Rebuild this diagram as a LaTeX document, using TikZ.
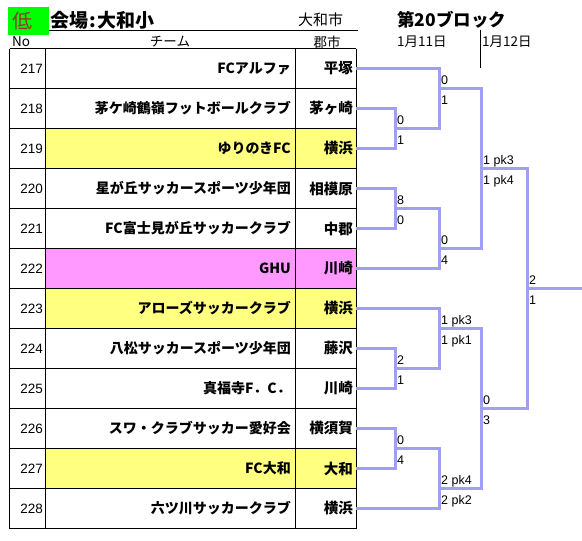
\documentclass[tikz,border=0pt]{standalone}
\usepackage{fontspec}
\setmainfont{Liberation Sans}
\newfontfamily\jp{Noto Sans CJK JP}
\definecolor{bracket}{HTML}{A0A0F0}
\definecolor{hiyellow}{HTML}{FFFF80}
\definecolor{hipink}{HTML}{FF99FF}
\definecolor{hdgreen}{HTML}{00FF00}
\definecolor{lowred}{HTML}{993333}
\newcommand{\scores}[3]{%
  \node[scorelbl] (#1-a) at ([shift={(2,-4)}]#1) {#2};
  \node[scorelbl] (#1-b) at ([shift={(2,16)}]#1) {#3};}
\begin{document}
\begin{tikzpicture}[x=1pt, y=-1pt,
  rule/.style={black, line width=1pt},
  link/.style={bracket, line width=3pt, line join=miter},
  nolbl/.style={anchor=east, inner sep=0pt, font=\fontsize{13.5}{14}\selectfont},
  teamlbl/.style={anchor=east, inner sep=0pt, font=\jp\bfseries\fontsize{14}{14}\selectfont},
  citylbl/.style={anchor=east, inner sep=0pt, font=\jp\bfseries\fontsize{14.5}{15}\selectfont},
  headlbl/.style={inner sep=0pt, font=\jp\fontsize{13.5}{14}\selectfont},
  scorelbl/.style={anchor=base west, inner sep=0pt, font=\fontsize{12.5}{12}\selectfont}]
  \useasboundingbox (0,0) rectangle (582,541);
  % Header
  \fill[hdgreen] (8,7) rectangle (48.5,35);
  \node[inner sep=0pt, anchor=west, text=lowred, font=\jp\fontsize{20}{20}\selectfont] (low) at (12,21) {低};
  \node[inner sep=0pt, anchor=west, font=\jp\bfseries\fontsize{19}{19}\selectfont] (venue) at (50,20) {会場\hspace{1.5pt}:\hspace{1.5pt}大和小};
  \node[headlbl, anchor=west, font=\jp\fontsize{15}{15}\selectfont] (town) at (298,20) {大和市};
  \node[inner sep=0pt, anchor=west, font=\jp\bfseries\fontsize{17.5}{18}\selectfont] (block) at (397,20) {第20ブロック};
  \draw[rule] (48.5,30) -- (358,30);
  \node[headlbl, anchor=west] (nohd) at (12,42) {No};
  \node[headlbl] (teamhd) at (170,42) {チーム};
  \node[headlbl] (cityhd) at (327,42) {郡市};
  \node[headlbl, anchor=west] (day1) at (397,42) {1月11日};
  \node[headlbl, anchor=west] (day2) at (482,42) {1月12日};
  \draw[black, line width=1pt] (480,30) -- (480,68);
  % Table
  \foreach \no/\team/\city/\bg [count=\i from 0] in {
      217/FCアルファ/平塚/white,
      218/茅ケ崎鶴嶺フットボールクラブ/茅ヶ崎/white,
      219/ゆりのきFC/横浜/hiyellow,
      220/星が丘サッカースポーツ少年団/相模原/white,
      221/FC富士見が丘サッカークラブ/中郡/white,
      222/GHU/川崎/hipink,
      223/アローズサッカークラブ/横浜/hiyellow,
      224/八松サッカースポーツ少年団/藤沢/white,
      225/真福寺F．C．/川崎/white,
      226/スワ・クラブサッカー愛好会/横須賀/white,
      227/FC大和/大和/hiyellow,
      228/六ツ川サッカークラブ/横浜/white} {
    \pgfmathsetmacro\ytop{48.5+40*\i}
    \fill[\bg] (45.5,\ytop) rectangle (356,\ytop+40);
    \node[nolbl] (no\no) at (43,\ytop+20) {\no};
    \node[teamlbl] (team\no) at (291,\ytop+20) {\team};
    \node[citylbl] (city\no) at (353,\ytop+20) {\city};
    \coordinate (r\no) at (356,\ytop+20);
  }
  \foreach \k in {0,...,12}
    \draw[rule] (9.5,48.5+40*\k) -- (356,48.5+40*\k);
  \foreach \x in {9.5,45.5,295.5,356}
    \draw[rule] (\x,48.5) -- (\x,528.5);
  % Round 1
  \coordinate (m218) at (395,128.5);
  \coordinate (m220) at (395,208.5);
  \coordinate (m224) at (395,368.5);
  \coordinate (m226) at (395,448.5);
  % Round 2
  \coordinate (m217) at (439,88.5);
  \coordinate (m222) at (439,248.5);
  \coordinate (m223) at (439,328.5);
  \coordinate (m228) at (439,488.5);
  % Semis and final
  \coordinate (s1) at (481,168.5);
  \coordinate (s2) at (481,408.5);
  \coordinate (fin) at (527,288.5);
  \coordinate (champ) at (582,288.5);
  % Bracket
  \draw[link] (r218) -| (m218) |- (r219);
  \draw[link] (r220) -| (m220) |- (r221);
  \draw[link] (r224) -| (m224) |- (r225);
  \draw[link] (r226) -| (m226) |- (r227);
  \draw[link] (r217) -| (m217) |- (m218);
  \draw[link] (m220) -| (m222) |- (r222);
  \draw[link] (r223) -| (m223) |- (m224);
  \draw[link] (m226) -| (m228) |- (r228);
  \draw[link] (m217) -| (s1) |- (m222);
  \draw[link] (m223) -| (s2) |- (m228);
  \draw[link] (s1) -| (fin) |- (s2);
  \draw[link] (fin) -- (champ);
  % Scores
  \scores{m218}{0}{1}
  \scores{m220}{8}{0}
  \scores{m224}{2}{1}
  \scores{m226}{0}{4}
  \scores{m217}{0}{1}
  \scores{m222}{0}{4}
  \scores{m223}{1 pk3}{1 pk1}
  \scores{m228}{2 pk4}{2 pk2}
  \scores{s1}{1 pk3}{1 pk4}
  \scores{s2}{0}{3}
  \scores{fin}{2}{1}
\end{tikzpicture}
\end{document}
